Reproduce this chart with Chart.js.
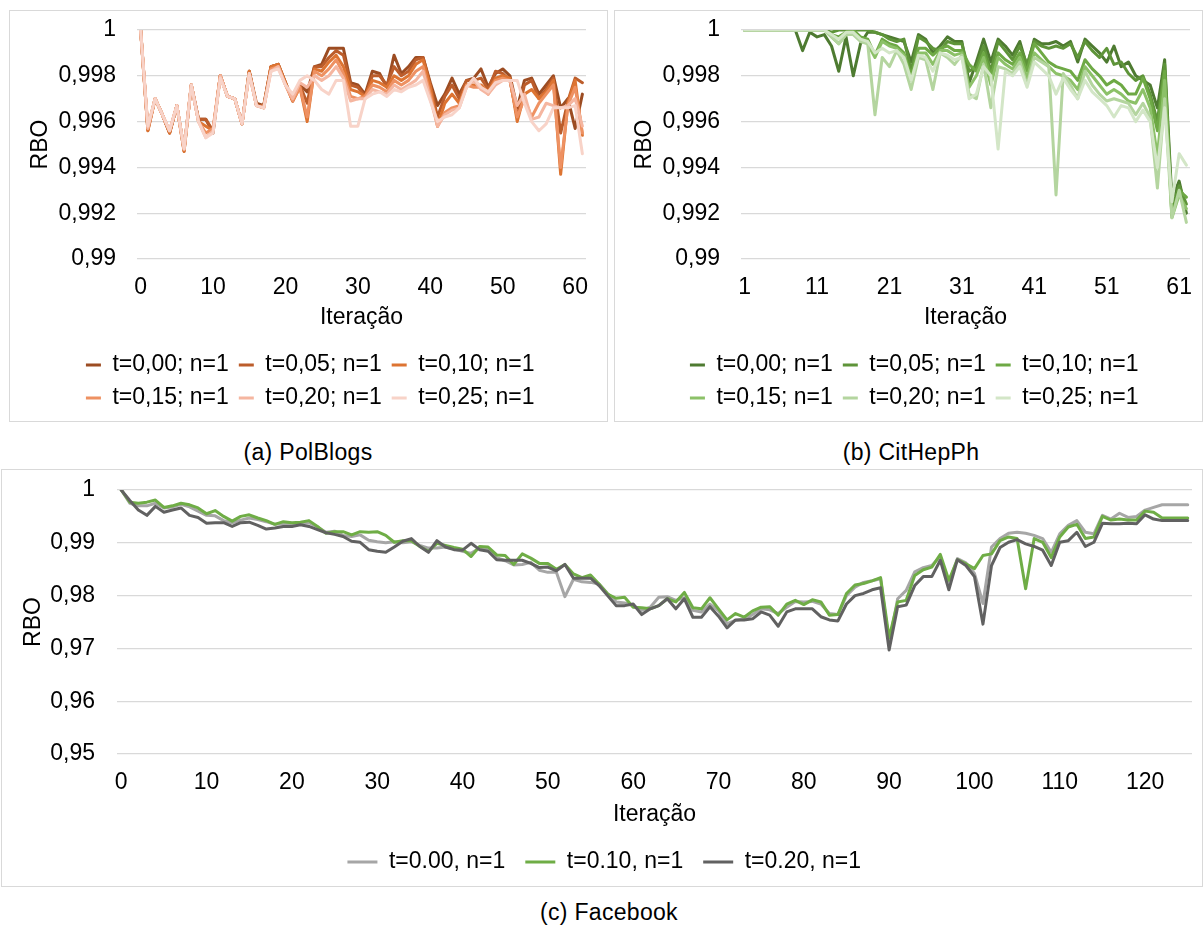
<!DOCTYPE html>
<html>
<head>
<meta charset="utf-8">
<script src="https://cdn.jsdelivr.net/npm/chart.js@4.4.1/dist/chart.umd.min.js"></script>
<style>
  html, body { margin:0; padding:0; background:#fff; }
  body { width:1204px; height:928px; position:relative; overflow:hidden; font-family:"Liberation Sans", Arial, sans-serif; }
  .box { position:absolute; border:1px solid #d9d9d9; box-sizing:border-box; }
  canvas { position:absolute; }
  .cap { position:absolute; font-size:23px; letter-spacing:0.3px; color:#000; transform:translateX(-50%); white-space:nowrap; line-height:26px; }
</style>
</head>
<body>
<div class="box" style="left:9px;top:10px;width:599px;height:412px;"></div>
<div class="box" style="left:614px;top:10px;width:589px;height:412px;"></div>
<div class="box" style="left:1px;top:469px;width:1202px;height:418px;"></div>
<canvas id="cA" width="597" height="409" style="left:10px;top:11px;"></canvas>
<canvas id="cB" width="587" height="409" style="left:615px;top:11px;"></canvas>
<canvas id="cC" width="1200" height="416" style="left:2px;top:470px;"></canvas>
<div class="cap" style="left:308px;top:439px;">(a) PolBlogs</div>
<div class="cap" style="left:911px;top:439px;">(b) CitHepPh</div>
<div class="cap" style="left:609px;top:899px;">(c) Facebook</div>
<script>
// ---------- Panel (a) PolBlogs ----------
const iterA = Array.from({length: 62}, (_, i) => i);
const labelsA = ['t=0,00; n=1','t=0,05; n=1','t=0,10; n=1','t=0,15; n=1','t=0,20; n=1','t=0,25; n=1'];
const colorsA = ['#9C4C22','#BC5D2B','#DD7432','#EE9162','#F5B6A0','#F8D3C8'];
const polT000 = [1.0000,0.9957,0.9970,0.9963,0.9955,0.9967,0.9948,0.9976,0.9961,0.9961,0.9955,0.9980,0.9971,0.9970,0.9959,0.9982,0.9968,0.9967,0.9984,0.9985,0.9977,0.9969,0.9976,
  0.9973,0.9984,0.9985,0.9992,0.9992,0.9992,0.9977,0.9976,0.9972,0.9982,0.9981,0.9975,0.9989,0.9981,0.9984,0.9988,0.9988,0.9977,0.9967,0.9972,0.9979,0.9972,0.9978,0.9979,0.9983,0.9975,0.9981,0.9983,0.9980,0.9966,0.9978,0.9979,
  0.9972,0.9976,0.9980,0.9966,0.9970,0.9957,0.9972];
const polT005 = [1.0000,0.9956,0.9970,0.9963,0.9955,0.9967,0.9947,0.9976,0.9961,0.9961,0.9956,0.9980,0.9971,0.9970,0.9959,0.9982,0.9967,0.9967,0.9984,0.9985,0.9977,0.9969,0.9976,
  0.9968,0.9984,0.9984,0.9988,0.9991,0.9989,0.9976,0.9975,0.9971,0.9980,0.9980,0.9976,0.9984,0.9980,0.9982,0.9987,0.9988,0.9976,0.9962,0.9971,0.9976,0.9970,0.9978,0.9978,0.9979,0.9974,0.9982,0.9981,0.9978,0.9962,0.9976,0.9978,
  0.9970,0.9974,0.9979,0.9955,0.9969,0.9979,0.9977];
const polT010 = [1.0000,0.9956,0.9970,0.9963,0.9955,0.9967,0.9947,0.9976,0.9960,0.9958,0.9956,0.9980,0.9971,0.9970,0.9959,0.9982,0.9967,0.9966,0.9984,0.9985,0.9977,0.9969,0.9975,
  0.9960,0.9983,0.9982,0.9986,0.9989,0.9984,0.9974,0.9973,0.9971,0.9978,0.9977,0.9975,0.9980,0.9978,0.9980,0.9985,0.9987,0.9975,0.9958,0.9968,0.9972,0.9968,0.9976,0.9976,0.9976,0.9973,0.9979,0.9980,0.9979,0.9960,0.9972,0.9974,
  0.9970,0.9973,0.9978,0.9937,0.9968,0.9978,0.9954];
const polT015 = [1.0000,0.9957,0.9970,0.9963,0.9956,0.9967,0.9948,0.9976,0.9960,0.9955,0.9957,0.9980,0.9971,0.9970,0.9959,0.9981,0.9967,0.9966,0.9983,0.9984,0.9976,0.9969,0.9975,
  0.9962,0.9982,0.9980,0.9983,0.9987,0.9981,0.9971,0.9970,0.9971,0.9976,0.9975,0.9973,0.9978,0.9976,0.9978,0.9982,0.9984,0.9972,0.9958,0.9964,0.9966,0.9967,0.9976,0.9975,0.9975,0.9972,0.9978,0.9979,0.9978,0.9962,0.9970,0.9962,
  0.9968,0.9972,0.9976,0.9940,0.9967,0.9975,0.9955];
const polT020 = [1.0000,0.9957,0.9970,0.9963,0.9956,0.9967,0.9948,0.9976,0.9960,0.9953,0.9956,0.9980,0.9971,0.9970,0.9959,0.9981,0.9967,0.9966,0.9982,0.9984,0.9976,0.9970,0.9977,
  0.9975,0.9980,0.9978,0.9980,0.9984,0.9979,0.9969,0.9970,0.9970,0.9974,0.9973,0.9972,0.9976,0.9974,0.9976,0.9978,0.9982,0.9970,0.9958,0.9963,0.9965,0.9966,0.9975,0.9978,0.9974,0.9972,0.9976,0.9978,0.9978,0.9967,0.9972,0.9961,
  0.9962,0.9968,0.9967,0.9966,0.9967,0.9970,0.9958];
const polT025 = [1.0000,0.9958,0.9970,0.9963,0.9956,0.9967,0.9948,0.9976,0.9960,0.9953,0.9955,0.9979,0.9971,0.9970,0.9959,0.9981,0.9967,0.9966,0.9982,0.9983,0.9976,0.9972,0.9978,
  0.9980,0.9978,0.9974,0.9972,0.9978,0.9978,0.9958,0.9958,0.9970,0.9972,0.9973,0.9971,0.9974,0.9973,0.9975,0.9976,0.9978,0.9969,0.9960,0.9962,0.9963,0.9966,0.9975,0.9979,0.9975,0.9973,0.9977,0.9978,0.9978,0.9978,0.9968,0.9960,
  0.9956,0.9959,0.9966,0.9966,0.9966,0.9967,0.9946];
const seriesA = [polT000, polT005, polT010, polT015, polT020, polT025];

// ---------- Panel (b) CitHepPh ----------
const iterB = Array.from({length: 62}, (_, i) => i + 1);
const labelsB = labelsA;
const colorsB = ['#4E7B31','#5E9439','#6EA945','#8CC168','#B4D59F','#D3E6C7'];
const citT000 = [1,1,1,1,1,1,1,1,0.9991,0.9999,0.9997,0.9998,0.9993,0.9982,0.9997,0.9980,0.9994,0.9999,0.9999,0.9998,0.9997,0.9996,0.9995,0.9986,0.9998,0.9996,0.9990,0.9993,0.9997,0.9995,0.9995,0.9977,0.9986,0.9996,0.9986,0.9996,0.9993,0.9989,0.9995,0.9984,0.9996,0.9994,0.9994,0.9995,0.9993,0.9995,0.9986,0.9996,0.9993,0.9990,0.9986,0.9993,0.9984,0.9986,0.9980,0.9978,0.9976,0.9966,0.9987,0.9926,0.9934,0.9920];
const citT005 = [1,1,1,1,1,1,1,1,1,1,1,1,0.9999,1,1,1,1,1,0.9999,0.9998,0.9996,0.9995,0.9996,0.9982,0.9997,0.9995,0.9992,0.9991,0.9995,0.9994,0.9994,0.9982,0.9984,0.9993,0.9982,0.9995,0.9991,0.9987,0.9993,0.9985,0.9995,0.9993,0.9992,0.9993,0.9992,0.9994,0.9988,0.9995,0.9991,0.9988,0.9992,0.9985,0.9986,0.9981,0.9978,0.9980,0.9972,0.9960,0.9985,0.9922,0.9932,0.9924];
const citT010 = [1,1,1,1,1,1,1,1,1,1,1,1,0.9998,0.9997,0.9999,1,0.9997,0.9996,0.9989,0.9996,0.9994,0.9993,0.9990,0.9980,0.9992,0.9992,0.9989,0.9992,0.9993,0.9991,0.9991,0.9985,0.9982,0.9990,0.9980,0.9990,0.9987,0.9985,0.9990,0.9982,0.9994,0.9990,0.9986,0.9984,0.9983,0.9982,0.9978,0.9987,0.9983,0.9980,0.9976,0.9978,0.9976,0.9972,0.9972,0.9979,0.9970,0.9956,0.9982,0.9919,0.9930,0.9927];
const citT015 = [1,1,1,1,1,1,1,1,1,1,1,1,0.9997,0.9994,0.9998,0.9999,0.9996,0.9994,0.9988,0.9995,0.9993,0.9992,0.9989,0.9978,0.9990,0.9990,0.9985,0.9991,0.9991,0.9989,0.9990,0.9975,0.9980,0.9988,0.9976,0.9988,0.9985,0.9983,0.9988,0.9979,0.9990,0.9987,0.9984,0.9981,0.9980,0.9978,0.9974,0.9984,0.9980,0.9976,0.9972,0.9974,0.9972,0.9969,0.9968,0.9974,0.9966,0.9945,0.9978,0.9918,0.9928,0.9922];
const citT020 = [1,1,1,1,1,1,1,1,1,1,1,1,0.9997,0.9994,0.9998,0.9998,0.9995,0.9994,0.9963,0.9988,0.9984,0.9991,0.9985,0.9974,0.9988,0.9987,0.9974,0.9990,0.9988,0.9985,0.9989,0.9972,0.9970,0.9985,0.9966,0.9984,0.9983,0.9981,0.9986,0.9976,0.9988,0.9986,0.9984,0.9928,0.9981,0.9976,0.9970,0.9982,0.9976,0.9972,0.9969,0.9970,0.9969,0.9968,0.9963,0.9968,0.9962,0.9931,0.9970,0.9918,0.9930,0.9916];
const citT025 = [1,1,1,1,1,1,1,1,1,1,1,1,0.9998,0.9996,0.9999,0.9999,0.9996,0.9995,0.9990,0.9992,0.9990,0.9991,0.9988,0.9978,0.9989,0.9988,0.9982,0.9990,0.9989,0.9987,0.9988,0.9970,0.9972,0.9984,0.9980,0.9948,0.9982,0.9980,0.9984,0.9975,0.9986,0.9983,0.9980,0.9972,0.9979,0.9974,0.9970,0.9978,0.9973,0.9970,0.9967,0.9962,0.9967,0.9966,0.9960,0.9965,0.9960,0.9940,0.9966,0.9925,0.9946,0.9941];
const seriesB = [citT000, citT005, citT010, citT015, citT020, citT025];

// ---------- Panel (c) Facebook ----------
const iterC = Array.from({length: 126}, (_, i) => i);
const labelsC = ['t=0.00, n=1','t=0.10, n=1','t=0.20, n=1'];
const colorsC = ['#A6A6A6','#6FAD46','#616161'];
const fbT000 = [1.0000,0.9975,0.9970,0.9970,0.9975,0.9966,0.9968,0.9973,0.9968,0.9960,0.9952,0.9951,0.9942,0.9938,0.9943,0.9947,0.9944,0.9940,0.9935,0.9936,0.9935,0.9937,0.9938,0.9930,0.9920,0.9922,0.9914,0.9912,0.9915,0.9905,0.9902,0.9900,0.9902,0.9900,0.9902,0.9895,0.9890,0.9890,0.9892,0.9888,0.9884,0.9880,0.9890,0.9887,0.9872,0.9866,0.9858,
  0.9859,0.9863,0.9848,0.9844,0.9844,0.9798,0.9831,0.9826,0.9825,0.9822,0.9804,0.9788,0.9786,0.9781,0.9772,0.9778,0.9797,0.9798,0.9791,0.9796,0.9772,0.9769,0.9784,0.9771,0.9747,0.9753,0.9756,0.9764,0.9775,0.9773,0.9766,0.9778,0.9789,0.9788,0.9789,0.9784,0.9766,0.9764,0.9800,0.9816,0.9825,0.9828,0.9832,
  0.9709,0.9794,0.9810,0.9845,0.9853,0.9857,0.9874,0.9823,0.9870,0.9862,0.9842,0.9785,0.9892,0.9908,0.9918,0.9920,0.9918,0.9914,0.9908,0.9882,0.9917,0.9933,0.9942,0.9920,0.9917,0.9952,0.9945,0.9956,0.9948,0.9950,0.9962,0.9967,0.9972,0.9972,0.9972,0.9972];
const fbT010 = [1.0000,0.9977,0.9975,0.9977,0.9981,0.9967,0.9970,0.9975,0.9972,0.9966,0.9955,0.9961,0.9950,0.9941,0.9950,0.9953,0.9947,0.9942,0.9935,0.9940,0.9938,0.9939,0.9942,0.9931,0.9918,0.9921,0.9921,0.9915,0.9921,0.9920,0.9921,0.9914,0.9901,0.9904,0.9904,0.9893,0.9884,0.9899,0.9895,0.9891,0.9888,0.9874,0.9893,0.9892,0.9877,0.9876,0.9859,
  0.9879,0.9871,0.9861,0.9861,0.9850,0.9859,0.9841,0.9834,0.9839,0.9822,0.9803,0.9795,0.9797,0.9778,0.9777,0.9775,0.9781,0.9794,0.9788,0.9806,0.9777,0.9775,0.9796,0.9775,0.9754,0.9766,0.9759,0.9771,0.9778,0.9779,0.9763,0.9784,0.9791,0.9783,0.9792,0.9788,0.9763,0.9764,0.9804,0.9820,0.9823,0.9828,0.9834,
  0.9720,0.9788,0.9791,0.9838,0.9849,0.9854,0.9878,0.9829,0.9868,0.9860,0.9851,0.9876,0.9879,0.9904,0.9911,0.9908,0.9813,0.9908,0.9901,0.9872,0.9911,0.9930,0.9935,0.9908,0.9911,0.9950,0.9943,0.9945,0.9943,0.9943,0.9960,0.9958,0.9947,0.9947,0.9947,0.9947];
const fbT020 = [1.0000,0.9980,0.9962,0.9952,0.9969,0.9958,0.9962,0.9966,0.9952,0.9948,0.9937,0.9938,0.9938,0.9931,0.9938,0.9939,0.9933,0.9926,0.9928,0.9931,0.9931,0.9934,0.9931,0.9925,0.9919,0.9916,0.9912,0.9903,0.9901,0.9887,0.9884,0.9882,0.9892,0.9903,0.9908,0.9893,0.9882,0.9904,0.9892,0.9887,0.9886,0.9899,0.9887,0.9884,0.9868,0.9867,0.9867,
  0.9867,0.9861,0.9853,0.9854,0.9847,0.9859,0.9833,0.9833,0.9833,0.9819,0.9800,0.9781,0.9781,0.9784,0.9764,0.9775,0.9781,0.9794,0.9775,0.9794,0.9759,0.9759,0.9779,0.9761,0.9739,0.9754,0.9754,0.9756,0.9769,0.9763,0.9742,0.9769,0.9775,0.9775,0.9775,0.9760,0.9754,0.9752,0.9784,0.9800,0.9804,0.9811,0.9815,
  0.9697,0.9779,0.9782,0.9819,0.9836,0.9836,0.9867,0.9811,0.9868,0.9857,0.9836,0.9746,0.9857,0.9891,0.9901,0.9906,0.9898,0.9893,0.9886,0.9857,0.9901,0.9904,0.9920,0.9893,0.9901,0.9937,0.9936,0.9936,0.9937,0.9936,0.9953,0.9945,0.9942,0.9942,0.9942,0.9942];
const seriesC = [fbT000, fbT010, fbT020];

// ---------- shared styling ----------
const FS = 23;
const HALF = FS * 1.2 / 2;
Chart.defaults.font.family = '"Liberation Sans", Arial, sans-serif';
Chart.defaults.font.size = FS;
Chart.defaults.color = '#000';

function fmtComma(v) { return String(+Number(v).toFixed(3)).replace('.', ','); }

function makeChart(id, cfg) {
  const n = cfg.series.length;
  const W = document.getElementById(id).width;
  const d = cfg.d;
  const datasets = cfg.series.map((s, i) => ({
    label: cfg.names[i], data: s,
    borderColor: cfg.colors[i], backgroundColor: cfg.colors[i],
    borderWidth: 3, pointRadius: 0, tension: 0,
    borderJoinStyle: 'round', borderCapStyle: 'round',
    order: n - i
  }));
  const ch = new Chart(document.getElementById(id), {
    type: 'line',
    data: { labels: cfg.cats, datasets },
    options: {
      responsive: false, animation: false, devicePixelRatio: 1,
      layout: { padding: { left: cfg.L, right: W - d.right, top: d.top, bottom: 2 } },
      plugins: {
        tooltip: { enabled: false },
        legend: {
          position: 'bottom',
          labels: {
            boxWidth: cfg.boxW, boxHeight: 3, padding: cfg.legPad, color: '#000',
            font: { size: FS },
            sort: (a, b) => a.datasetIndex - b.datasetIndex,
            generateLabels: (chart) => Chart.defaults.plugins.legend.labels.generateLabels(chart)
              .map(l => Object.assign(l, { lineWidth: 0, fillStyle: l.strokeStyle }))
          }
        }
      },
      scales: {
        x: {
          type: 'category', offset: true,
          grid: { display: false, drawTicks: true, tickLength: 12 },
          border: { display: false },
          ticks: {
            autoSkip: false, maxRotation: 0, minRotation: 0, padding: 3, color: '#000',
            callback: function (value) {
              const lab = this.getLabelForValue(value);
              return ((lab - cfg.first) % 10 === 0) ? String(lab) : '';
            }
          },
          title: { display: true, text: 'Iteração', color: '#000', font: { size: FS }, padding: { top: 0, bottom: 10 } },
          afterFit: s => { s.height = cfg.xH; }
        },
        y: {
          min: cfg.yMin, max: 1,
          grid: { color: '#d9d9d9', lineWidth: 1.3, drawTicks: true, tickLength: cfg.yTickPad - 3, tickColor: 'rgba(0,0,0,0)' },
          border: { display: false },
          ticks: { stepSize: cfg.yStep, padding: 3, color: '#000', callback: v => fmtComma(v) },
          title: { display: true, text: 'RBO', color: '#000', font: { size: FS }, padding: { top: 0, bottom: 0 } },
          afterFit: s => { s.width = d.left - cfg.L; }
        }
      }
    }
  });
  // place chart area, legend and titles where the reference has them
  for (let k = 0; k < 3; k++) {
    const ca = ch.chartArea, hb = ch.legend.legendHitBoxes;
    const pad = Object.assign({}, ch.options.layout.padding);
    const rowC = hb[0].top + hb[0].height / 2;
    const dyLeg = d.legRow - rowC;
    pad.bottom -= dyLeg;
    cfg.xH += (ca.bottom + dyLeg) - d.bottom;
    pad.top += d.top - ca.top;
    const row0 = hb.filter(h => h.row === 0);
    const tStart = row0[0].left + cfg.boxW + FS / 2;
    const last = row0[row0.length - 1];
    const tEnd = last.left + last.width;
    const dx = d.legCX - (tStart + tEnd) / 2;
    cfg.L += 2 * dx;
    pad.left = cfg.L;
    ch.options.layout.padding = pad;
    ch.options.scales.y.title.padding = { top: d.yTitleX - cfg.L - HALF, bottom: 0 };
    ch.update();
    ch.options.scales.x.title.padding = { top: 0, bottom: ch.scales.x.bottom - HALF - d.xTitleY };
    ch.update();
  }
  return ch;
}

makeChart('cA', { series: seriesA, names: labelsA, colors: colorsA, cats: iterA, first: 0,
  L: 15, xH: 84, yMin: 0.99, yStep: 0.002, yTickPad: 21, boxW: 15, legPad: 10,
  d: { left: 127, right: 576, top: 19, bottom: 248, legRow: 354, legCX: 313.5, yTitleX: 31, xTitleY: 307 } });
makeChart('cB', { series: seriesB, names: labelsB, colors: colorsB, cats: iterB, first: 1,
  L: 17, xH: 84, yMin: 0.99, yStep: 0.002, yTickPad: 21, boxW: 15, legPad: 10,
  d: { left: 126, right: 575, top: 19, bottom: 248, legRow: 354, legCX: 312.5, yTitleX: 29.5, xTitleY: 307 } });
makeChart('cC', { series: seriesC, names: labelsC, colors: colorsC, cats: iterC, first: 0,
  L: 2, xH: 77, yMin: 0.95, yStep: 0.01, yTickPad: 22, boxW: 30, legPad: 20,
  d: { left: 115, right: 1190, top: 20, bottom: 284, legRow: 392, legCX: 623, yTitleX: 31.3, xTitleY: 345 } });
</script>
</body>
</html>
